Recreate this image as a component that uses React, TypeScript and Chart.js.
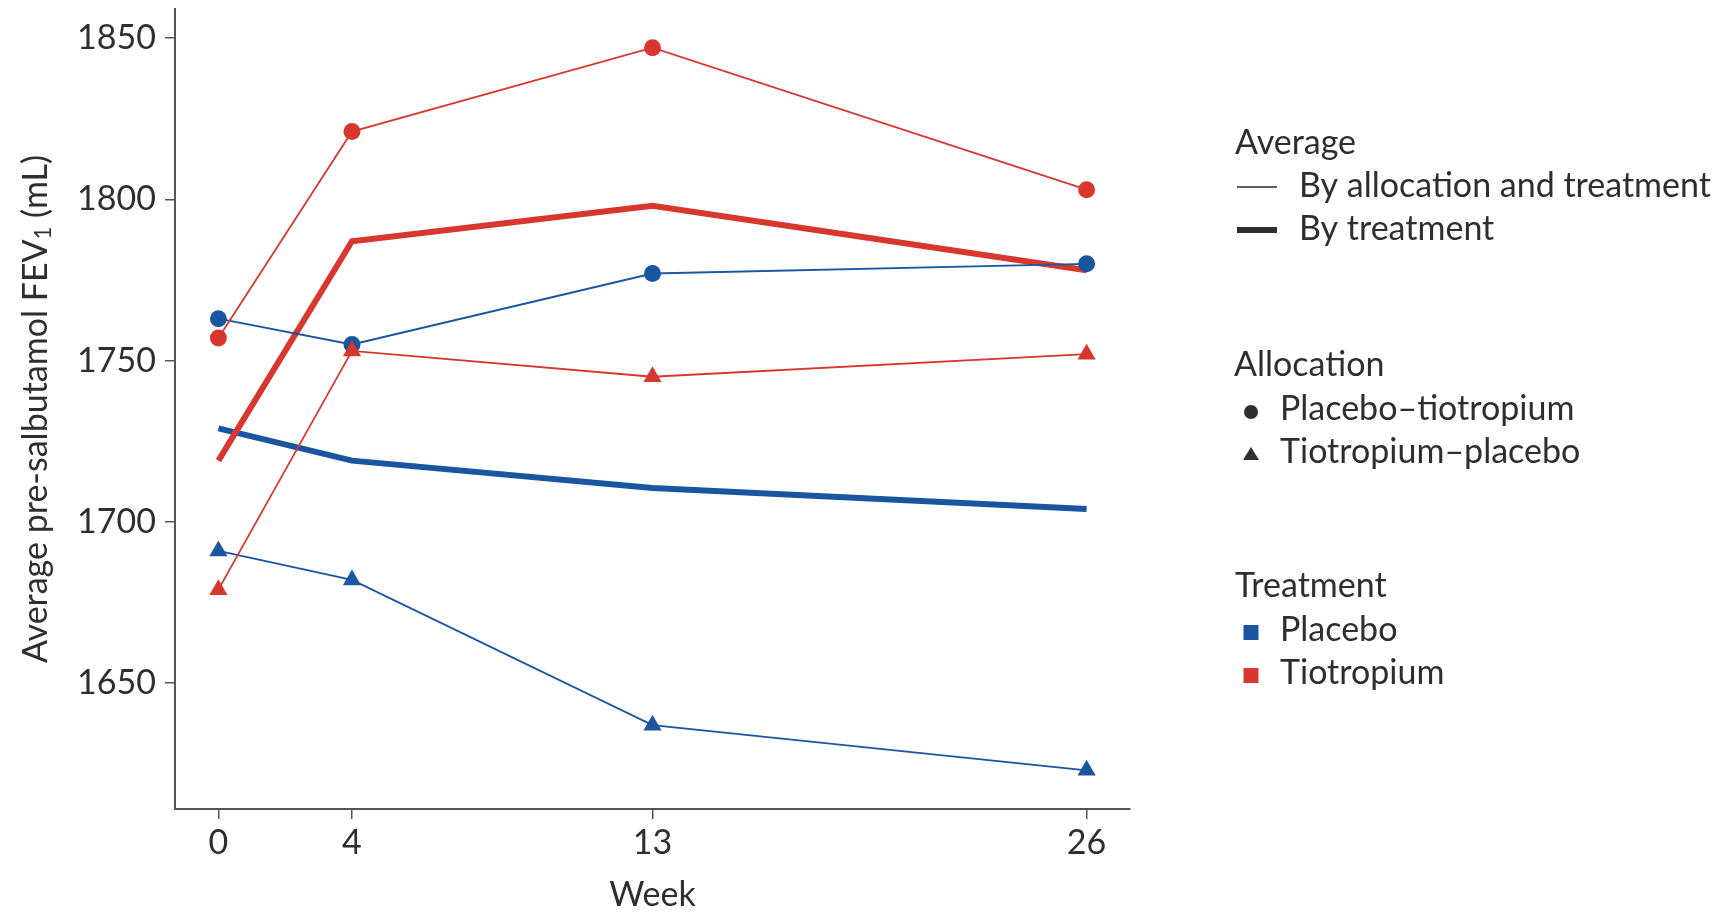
import React, { useEffect, useRef } from "react";
import { Chart, registerables } from "chart.js";

Chart.register(...registerables);

// Study weeks on the x axis
const weeks = [0, 4, 13, 26];
const yTicks = [1650, 1700, 1750, 1800, 1850];

// Average by allocation and treatment (thin lines)
const placeboTiotropiumOnTiotropium = [1757, 1821, 1847, 1803];
const placeboTiotropiumOnPlacebo = [1763, 1755, 1777, 1780];
const tiotropiumPlaceboOnTiotropium = [1679, 1753, 1745, 1752];
const tiotropiumPlaceboOnPlacebo = [1691, 1682, 1637, 1623];

// Average by treatment (thick lines)
const byTreatmentTiotropium = [1719, 1787, 1798, 1778];
const byTreatmentPlacebo = [1729, 1719, 1710.5, 1704];

const RED = "#d7372f";
const BLUE = "#1a55a0";
const TEXT = "#2e2e2e";
const AXIS = "#555555";
const FONT = "Lato, 'Noto Sans', sans-serif";
const FS = 34;

const pts = (vals: number[]) => weeks.map((w, i) => ({ x: w, y: vals[i] }));

const annotations = {
  id: "annotations",
  afterDraw(chart: Chart) {
    const ctx = chart.ctx;
    const area = chart.chartArea;
    ctx.save();
    ctx.fillStyle = TEXT;
    ctx.strokeStyle = TEXT;
    ctx.textBaseline = "middle";
    ctx.font = `${FS}px ${FONT}`;

    // x axis title
    ctx.textAlign = "center";
    ctx.fillText("Week", (area.left + area.right) / 2, 895);

    // y axis title with subscript
    ctx.save();
    ctx.translate(36, (area.top + area.bottom) / 2);
    ctx.rotate(-Math.PI / 2);
    const partA = "Average pre-salbutamol FEV";
    const partB = "1";
    const partC = " (mL)";
    ctx.font = `${FS}px ${FONT}`;
    const wA = ctx.measureText(partA).width;
    const wC = ctx.measureText(partC).width;
    ctx.font = `${FS * 0.65}px ${FONT}`;
    const wB = ctx.measureText(partB).width;
    const total = wA + wB + wC;
    let x0 = -total / 2;
    ctx.textAlign = "left";
    ctx.font = `${FS}px ${FONT}`;
    ctx.fillText(partA, x0, 0);
    x0 += wA;
    ctx.font = `${FS * 0.65}px ${FONT}`;
    ctx.fillText(partB, x0, 8);
    x0 += wB;
    ctx.font = `${FS}px ${FONT}`;
    ctx.fillText(partC, x0, 0);
    ctx.restore();

    // legend
    ctx.textAlign = "left";
    ctx.font = `${FS}px ${FONT}`;
    ctx.fillText("Average", 1235, 143);

    ctx.lineCap = "butt";
    ctx.lineWidth = 1.5;
    ctx.beginPath();
    ctx.moveTo(1237, 187);
    ctx.lineTo(1277, 187);
    ctx.stroke();
    ctx.fillText("By allocation and treatment", 1299, 186);

    ctx.lineWidth = 6;
    ctx.beginPath();
    ctx.moveTo(1237, 230);
    ctx.lineTo(1277, 230);
    ctx.stroke();
    ctx.fillText("By treatment", 1299, 229);

    ctx.fillText("Allocation", 1234, 365);
    ctx.beginPath();
    ctx.arc(1251, 412, 7, 0, Math.PI * 2);
    ctx.fill();
    ctx.fillText("Placebo\u2013tiotropium", 1280, 409);
    ctx.beginPath();
    ctx.moveTo(1251, 447);
    ctx.lineTo(1259, 460);
    ctx.lineTo(1243, 460);
    ctx.closePath();
    ctx.fill();
    ctx.fillText("Tiotropium\u2013placebo", 1280, 452);

    ctx.fillText("Treatment", 1235, 586);
    ctx.fillStyle = BLUE;
    ctx.fillRect(1243.5, 625, 15, 15);
    ctx.fillStyle = RED;
    ctx.fillRect(1243.5, 668, 15, 15);
    ctx.fillStyle = TEXT;
    ctx.fillText("Placebo", 1280, 630);
    ctx.fillText("Tiotropium", 1280, 673);

    ctx.restore();
  },
};

export default function App() {
  const canvasRef = useRef<HTMLCanvasElement | null>(null);

  useEffect(() => {
    if (!canvasRef.current) return;
    const thin = (label: string, vals: number[], color: string, style: string, order: number) => ({
      label,
      data: pts(vals),
      borderColor: color,
      backgroundColor: color,
      borderWidth: 1.8,
      pointStyle: style,
      pointRadius: style === "triangle" ? 10.5 : 8.5,
      pointBorderWidth: 0,
      pointBackgroundColor: color,
      order,
      tension: 0,
    });
    const thick = (label: string, vals: number[], color: string, order: number) => ({
      label,
      data: pts(vals),
      borderColor: color,
      backgroundColor: color,
      borderWidth: 6,
      pointRadius: 0,
      order,
      tension: 0,
      borderCapStyle: "butt" as const,
    });

    const chart = new Chart(canvasRef.current, {
      type: "line",
      data: {
        datasets: [
          thin("Tiotropium–placebo, tiotropium", tiotropiumPlaceboOnTiotropium, RED, "triangle", 1),
          thin("Placebo–tiotropium, tiotropium", placeboTiotropiumOnTiotropium, RED, "circle", 2),
          thin("Placebo–tiotropium, placebo", placeboTiotropiumOnPlacebo, BLUE, "circle", 3),
          thin("Tiotropium–placebo, placebo", tiotropiumPlaceboOnPlacebo, BLUE, "triangle", 4),
          thick("Tiotropium", byTreatmentTiotropium, RED, 5),
          thick("Placebo", byTreatmentPlacebo, BLUE, 6),
        ] as any,
      },
      options: {
        animation: false,
        responsive: false,
        maintainAspectRatio: false,
        layout: {
          autoPadding: false,
          padding: { top: 9, left: 0, right: 589, bottom: 0 },
        },
        plugins: {
          legend: { display: false },
          tooltip: { enabled: false },
          title: { display: false },
        },
        scales: {
          x: {
            type: "linear",
            min: -1.3,
            max: 27.3,
            afterBuildTicks: (s: any) => {
              s.ticks = weeks.map((v) => ({ value: v }));
            },
            afterFit: (s: any) => {
              s.height = 103;
              s.paddingLeft = 0;
              s.paddingRight = 0;
            },
            grid: {
              drawOnChartArea: false,
              drawTicks: true,
              tickLength: 10,
              color: AXIS,
              lineWidth: 1.5,
            },
            border: { display: true, color: AXIS, width: 2 },
            ticks: {
              color: TEXT,
              font: { family: FONT, size: FS },
              padding: 4,
              maxRotation: 0,
              autoSkip: false,
              callback: (v: any) => String(v),
            },
          },
          y: {
            type: "linear",
            min: 1611,
            max: 1859,
            afterBuildTicks: (s: any) => {
              s.ticks = yTicks.map((v) => ({ value: v }));
            },
            afterFit: (s: any) => {
              s.width = 175;
              s.paddingTop = 0;
              s.paddingBottom = 0;
            },
            grid: {
              drawOnChartArea: false,
              drawTicks: true,
              tickLength: 10,
              color: AXIS,
              lineWidth: 1.5,
            },
            border: { display: true, color: AXIS, width: 2 },
            ticks: {
              color: TEXT,
              font: { family: FONT, size: FS },
              padding: 9,
              autoSkip: false,
              callback: (v: any) => String(v),
            },
          },
        },
      },
      plugins: [annotations],
    });
    return () => chart.destroy();
  }, []);

  return (
    <div style={{ position: "fixed", left: 0, top: 0, width: 1719, height: 912, background: "#fff" }}>
      <canvas ref={canvasRef} width={1719} height={912} style={{ width: 1719, height: 912 }} />
    </div>
  );
}
